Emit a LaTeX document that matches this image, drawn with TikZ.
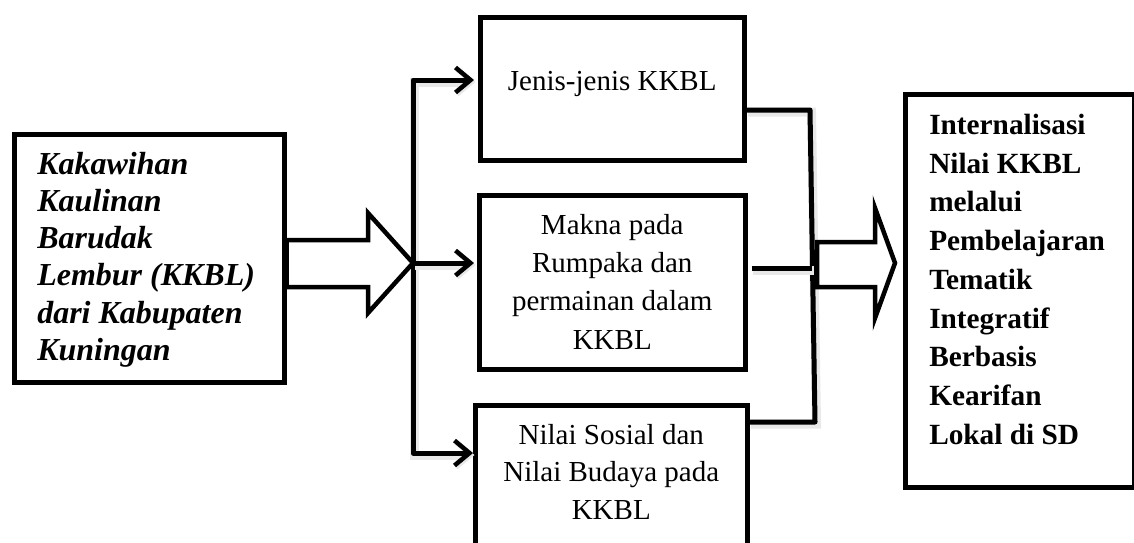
\documentclass[tikz,border=0pt]{standalone}
\usepackage{fontspec}
\setmainfont{Liberation Serif}
\usetikzlibrary{arrows.meta,calc}

\begin{document}
\begin{tikzpicture}[x=1pt,y=-1pt,
  frame/.style={draw, line width=4.5pt, inner sep=0pt, anchor=north west, fill=white},
  softshadow/.style={preaction={draw=black!9, line width=9pt,
      transform canvas={xshift=1.5pt,yshift=-2pt}}},
  conn/.style={line width=5pt, line join=round, softshadow},
  barb/.tip={Straight Barb[length=15pt,width=25pt,line width=4.5pt]},
  blockarrow/.style={draw, fill=white, line width=4.5pt, line join=miter}]
\useasboundingbox (0,0) rectangle (1134,542);
\clip (0,0) rectangle (1134,542);

% fan-out on the left
\coordinate (fanTop) at (413,80);
\coordinate (split) at (413,263);
\coordinate (fanBot) at (413,453);
% merge on the right
\coordinate (mergeTop) at (810,110);
\coordinate (mergeMid) at (812,268);
\coordinate (mergeBot) at (815,422);

% source box
\node[frame] (src) at (12,132) {\parbox[c][248pt][t]{270pt}{\fontsize{32}{37.2}\selectfont
  \raggedright\leftskip=23pt\bfseries\itshape
  \rule{0pt}{40pt}Kakawihan\\ Kaulinan\\ Barudak\\ Lembur (KKBL)\\ dari Kabupaten\\ Kuningan}};

% three aspects
\node[frame] (jenis) at (478,15) {\parbox[c][143pt][t]{264pt}{\fontsize{29}{37.5}\selectfont
  \centering\rule{0pt}{73pt}Jenis-jenis KKBL}};
\node[frame] (makna) at (477,193) {\parbox[c][174pt][t]{266pt}{\fontsize{29}{38.3}\selectfont
  \centering\rule{0pt}{39pt}Makna pada\\ Rumpaka dan\\ permainan dalam\\ KKBL}};
\node[frame] (nilai) at (473,403) {\parbox[c][190pt][t]{272pt}{\fontsize{29}{37.5}\selectfont
  \centering\rule{0pt}{39pt}Nilai Sosial dan\\ Nilai Budaya pada\\ KKBL}};

% result box
\node[frame] (hasil) at (903,92) {\parbox[c][393pt][t]{229pt}{\fontsize{29.3}{38.75}\selectfont
  \raggedright\leftskip=24pt\bfseries
  \rule{0pt}{40pt}Internalisasi\\ Nilai KKBL\\ melalui\\ Pembelajaran\\ Tematik\\ Integratif\\ Berbasis\\ Kearifan\\ Lokal di SD}};

% branches into the three aspect boxes
\draw[conn, barb-barb, shorten <=4pt]
  (jenis.west |- fanTop) -- (fanTop) -- (fanBot) -- (nilai.west |- fanBot);
\draw[conn, -barb, shorten >=3pt] (split) -- (makna.west |- split);

% hollow arrow from the source box
\draw[blockarrow] (src.east |- 0,240) -- (368,240) -- (368,213) -- (split)
  -- (368,313) -- (368,287) -- (src.east |- 0,287) -- cycle;

% lines gathered on the right
\draw[conn] (jenis.east |- mergeTop) -- (mergeTop) -- (mergeBot) -- (nilai.east |- mergeBot);
\draw[conn] ($(makna.east |- mergeMid)+(4,0)$) -- (mergeMid);

% hollow arrow into the result box
\draw[blockarrow] (817,242) -- (875,242) -- (875,208) -- (895,263)
  -- (875,318) -- (875,287) -- (817,287) -- cycle;
\end{tikzpicture}
\end{document}
